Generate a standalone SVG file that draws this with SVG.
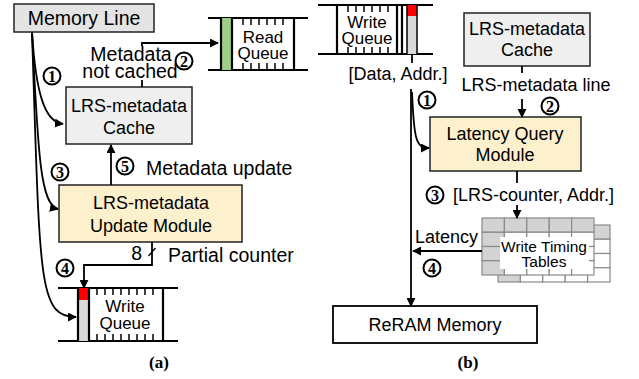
<svg xmlns="http://www.w3.org/2000/svg" width="639" height="379" viewBox="0 0 639 379">
<defs>
<marker id="ah" viewBox="0 0 10 10" refX="9" refY="5" markerWidth="9" markerHeight="9" markerUnits="userSpaceOnUse" orient="auto"><path d="M0,0 L10,5 L0,10 z" fill="#000"/></marker>
<style>
.t{font-family:"Liberation Sans",Arial,sans-serif;font-size:18px;fill:#000}
.L{font-family:"Liberation Sans",Arial,sans-serif;font-size:19.5px;fill:#000}
.q{font-family:"Liberation Sans",Arial,sans-serif;font-size:17px;fill:#000}
.box{stroke:#222;stroke-width:1.5}
.c{fill:#fff;stroke:#000;stroke-width:2}
.n{font-family:"Liberation Serif","Times New Roman",serif;font-weight:bold;font-size:16px;fill:#000;text-anchor:middle}
.cap{font-family:"Liberation Serif","Times New Roman",serif;font-weight:bold;font-size:17px;fill:#000;text-anchor:middle}
.ln{fill:none;stroke:#000;stroke-width:1.8}
.ql{stroke:#000;stroke-width:2.2;fill:none}
.tk{stroke:#000;stroke-width:1.5}
.g{fill:#d3d3d3;stroke:#8a8a8a;stroke-width:1.2}
.w{fill:#fff;stroke:#8a8a8a;stroke-width:1.2}
</style>
</defs>
<rect width="639" height="379" fill="#fff"/>

<!-- Left panel nodes -->
<g id="memory-line">
<rect class="box" x="14" y="4" width="140" height="28" fill="#e4e4e4"/>
<text class="L" x="84" y="25" text-anchor="middle">Memory Line</text>
</g>

<g id="read-queue">
<line class="ql" x1="208" y1="18" x2="308" y2="18"/>
<line class="ql" x1="208" y1="70" x2="308" y2="70"/>
<rect x="222" y="18" width="10" height="52" fill="#9dcf86"/>
<line class="ql" x1="221" y1="18" x2="221" y2="70"/>
<line class="ql" x1="232" y1="18" x2="232" y2="70"/>
<line class="ql" x1="294" y1="18" x2="294" y2="70"/>
<g class="tk">
<line x1="243" y1="18" x2="243" y2="25"/><line x1="251" y1="18" x2="251" y2="25"/><line x1="259" y1="18" x2="259" y2="25"/><line x1="267" y1="18" x2="267" y2="25"/><line x1="275" y1="18" x2="275" y2="25"/><line x1="283" y1="18" x2="283" y2="25"/>
<line x1="243" y1="63" x2="243" y2="70"/><line x1="251" y1="63" x2="251" y2="70"/><line x1="259" y1="63" x2="259" y2="70"/><line x1="267" y1="63" x2="267" y2="70"/><line x1="275" y1="63" x2="275" y2="70"/><line x1="283" y1="63" x2="283" y2="70"/>
</g>
<rect x="236" y="28" width="55" height="34" fill="#fff"/>
<text class="q" x="263" y="43" text-anchor="middle">Read</text>
<text class="q" x="263" y="59" text-anchor="middle">Queue</text>
</g>

<g id="cache-a">
<rect class="box" x="66" y="87" width="126" height="57" fill="#efefef"/>
<text class="t" x="129" y="112" text-anchor="middle">LRS-metadata</text>
<text class="t" x="129" y="134" text-anchor="middle">Cache</text>
</g>

<g id="update-module">
<rect class="box" x="59" y="185" width="183" height="57" fill="#fdf0cc"/>
<text class="t" x="151" y="209" text-anchor="middle">LRS-metadata</text>
<text class="t" x="151" y="232" text-anchor="middle">Update Module</text>
</g>

<g id="write-queue-a">
<line class="ql" x1="58" y1="288" x2="178" y2="288"/>
<line class="ql" x1="58" y1="341" x2="178" y2="341"/>
<rect x="78" y="288" width="11" height="53" fill="#d9d9d9"/>
<rect x="78" y="288" width="11" height="12" fill="#ff0000"/>
<line class="ql" x1="78" y1="288" x2="78" y2="341"/>
<line class="ql" x1="89" y1="288" x2="89" y2="341"/>
<line class="ql" x1="163" y1="288" x2="163" y2="341"/>
<g class="tk">
<line x1="97" y1="288" x2="97" y2="295"/><line x1="105" y1="288" x2="105" y2="295"/><line x1="113" y1="288" x2="113" y2="295"/><line x1="121" y1="288" x2="121" y2="295"/><line x1="129" y1="288" x2="129" y2="295"/><line x1="137" y1="288" x2="137" y2="295"/><line x1="145" y1="288" x2="145" y2="295"/><line x1="153" y1="288" x2="153" y2="295"/>
<line x1="97" y1="334" x2="97" y2="341"/><line x1="105" y1="334" x2="105" y2="341"/><line x1="113" y1="334" x2="113" y2="341"/><line x1="121" y1="334" x2="121" y2="341"/><line x1="129" y1="334" x2="129" y2="341"/><line x1="137" y1="334" x2="137" y2="341"/><line x1="145" y1="334" x2="145" y2="341"/><line x1="153" y1="334" x2="153" y2="341"/>
</g>
<rect x="96" y="297" width="58" height="36" fill="#fff"/>
<text class="q" x="125" y="312" text-anchor="middle">Write</text>
<text class="q" x="125" y="329" text-anchor="middle">Queue</text>
</g>

<!-- Right panel nodes -->
<g id="write-queue-b">
<line class="ql" x1="318" y1="5" x2="433" y2="5"/>
<line class="ql" x1="318" y1="54" x2="433" y2="54"/>
<rect x="407" y="5" width="10" height="49" fill="#d9d9d9"/>
<rect x="407" y="5" width="10" height="11" fill="#ff0000"/>
<line class="ql" x1="337" y1="5" x2="337" y2="54"/>
<line class="ql" x1="397" y1="5" x2="397" y2="54"/>
<line class="ql" x1="402" y1="5" x2="402" y2="54"/>
<line x1="407" y1="5" x2="407" y2="54" stroke="#000" stroke-width="1.5"/>
<line x1="417" y1="5" x2="417" y2="54" stroke="#000" stroke-width="1.5"/>
<g class="tk">
<line x1="348" y1="5" x2="348" y2="12"/><line x1="356" y1="5" x2="356" y2="12"/><line x1="364" y1="5" x2="364" y2="12"/><line x1="372" y1="5" x2="372" y2="12"/><line x1="380" y1="5" x2="380" y2="12"/><line x1="388" y1="5" x2="388" y2="12"/>
<line x1="348" y1="47" x2="348" y2="54"/><line x1="356" y1="47" x2="356" y2="54"/><line x1="364" y1="47" x2="364" y2="54"/><line x1="372" y1="47" x2="372" y2="54"/><line x1="380" y1="47" x2="380" y2="54"/><line x1="388" y1="47" x2="388" y2="54"/>
</g>
<rect x="340" y="13" width="54" height="34" fill="#fff"/>
<text class="q" x="367" y="28" text-anchor="middle">Write</text>
<text class="q" x="367" y="44" text-anchor="middle">Queue</text>
</g>

<g id="cache-b">
<rect class="box" x="464" y="13" width="126" height="53" fill="#efefef"/>
<text class="t" x="527" y="35" text-anchor="middle">LRS-metadata</text>
<text class="t" x="527" y="56" text-anchor="middle">Cache</text>
</g>

<g id="latency-query">
<rect class="box" x="430" y="117" width="151" height="54" fill="#fdf0cc"/>
<text class="t" x="505" y="140" text-anchor="middle">Latency Query</text>
<text class="t" x="505" y="161" text-anchor="middle">Module</text>
</g>

<g id="write-timing-tables">
<g>
<rect class="g" x="498" y="225" width="22.4" height="14.25"/><rect class="g" x="520.4" y="225" width="22.4" height="14.25"/><rect class="g" x="542.8" y="225" width="22.4" height="14.25"/><rect class="g" x="565.2" y="225" width="22.4" height="14.25"/><rect class="g" x="587.6" y="225" width="22.4" height="14.25"/>
<rect class="g" x="498" y="239.25" width="22.4" height="14.25"/><rect class="w" x="520.4" y="239.25" width="22.4" height="14.25"/><rect class="w" x="542.8" y="239.25" width="22.4" height="14.25"/><rect class="w" x="565.2" y="239.25" width="22.4" height="14.25"/><rect class="w" x="587.6" y="239.25" width="22.4" height="14.25"/>
<rect class="g" x="498" y="253.5" width="22.4" height="14.25"/><rect class="w" x="520.4" y="253.5" width="22.4" height="14.25"/><rect class="w" x="542.8" y="253.5" width="22.4" height="14.25"/><rect class="w" x="565.2" y="253.5" width="22.4" height="14.25"/><rect class="w" x="587.6" y="253.5" width="22.4" height="14.25"/>
<rect class="g" x="498" y="267.75" width="22.4" height="14.25"/><rect class="w" x="520.4" y="267.75" width="22.4" height="14.25"/><rect class="w" x="542.8" y="267.75" width="22.4" height="14.25"/><rect class="w" x="565.2" y="267.75" width="22.4" height="14.25"/><rect class="w" x="587.6" y="267.75" width="22.4" height="14.25"/>
</g>
<g>
<rect class="g" x="482" y="218" width="22.4" height="14.25"/><rect class="g" x="504.4" y="218" width="22.4" height="14.25"/><rect class="g" x="526.8" y="218" width="22.4" height="14.25"/><rect class="g" x="549.2" y="218" width="22.4" height="14.25"/><rect class="g" x="571.6" y="218" width="22.4" height="14.25"/>
<rect class="g" x="482" y="232.25" width="22.4" height="14.25"/><rect class="w" x="504.4" y="232.25" width="22.4" height="14.25"/><rect class="w" x="526.8" y="232.25" width="22.4" height="14.25"/><rect class="w" x="549.2" y="232.25" width="22.4" height="14.25"/><rect class="w" x="571.6" y="232.25" width="22.4" height="14.25"/>
<rect class="g" x="482" y="246.5" width="22.4" height="14.25"/><rect class="w" x="504.4" y="246.5" width="22.4" height="14.25"/><rect class="w" x="526.8" y="246.5" width="22.4" height="14.25"/><rect class="w" x="549.2" y="246.5" width="22.4" height="14.25"/><rect class="w" x="571.6" y="246.5" width="22.4" height="14.25"/>
<rect class="g" x="482" y="260.75" width="22.4" height="14.25"/><rect class="w" x="504.4" y="260.75" width="22.4" height="14.25"/><rect class="w" x="526.8" y="260.75" width="22.4" height="14.25"/><rect class="w" x="549.2" y="260.75" width="22.4" height="14.25"/><rect class="w" x="571.6" y="260.75" width="22.4" height="14.25"/>
</g>
<rect x="500" y="237" width="89" height="32" fill="#fff"/>
<text x="544" y="252" text-anchor="middle" font-family="Liberation Sans, Arial, sans-serif" font-size="15.5">Write Timing</text>
<text x="544" y="267" text-anchor="middle" font-family="Liberation Sans, Arial, sans-serif" font-size="15.5">Tables</text>
</g>

<g id="reram-memory">
<rect x="333" y="306" width="204" height="37" fill="#fff" stroke="#000" stroke-width="1.8"/>
<text class="t" x="435" y="331" text-anchor="middle">ReRAM Memory</text>
</g>

<!-- Connectors -->
<g id="connectors">
<path class="ln" d="M32,32 C36,95 45,122 63,124" marker-end="url(#ah)"/>
<path class="ln" d="M32,32 C38,150 40,205 58,209" marker-end="url(#ah)"/>
<path class="ln" d="M32,32 C40,280 38,317 76,317" marker-end="url(#ah)"/>
<path class="ln" d="M142,87 L142,80"/>
<path class="ln" d="M142,46 L142,43 L218,43" marker-end="url(#ah)"/>
<path class="ln" d="M111,185 L111,145" marker-end="url(#ah)"/>
<path class="ln" d="M152,242 L152,265 L84,265 L84,288" marker-end="url(#ah)"/>
<line x1="148.5" y1="256" x2="155.5" y2="248" stroke="#000" stroke-width="1.3"/>

<path class="ln" d="M412,54 L412,63"/>
<path class="ln" d="M411,89 L411,306" marker-end="url(#ah)"/>
<path class="ln" d="M412,92 C414,140 416,148 429,148" marker-end="url(#ah)"/>
<path class="ln" d="M522,66 L522,73"/>
<path class="ln" d="M522,99 L522,117" marker-end="url(#ah)"/>
<path class="ln" d="M517,171 L517,183"/>
<path class="ln" d="M517,205 L517,218" marker-end="url(#ah)"/>
<path class="ln" d="M482,251 L413,251" marker-end="url(#ah)"/>
</g>

<!-- Labels -->
<g id="labels">
<text class="L" x="131" y="61" text-anchor="middle">Metadata</text>
<text class="L" x="130" y="78" text-anchor="middle">not cached</text>
<text class="L" x="146" y="175">Metadata update</text>
<text class="L" x="142" y="260" text-anchor="end">8</text>
<text class="L" x="168" y="262">Partial counter</text>
<text class="t" x="398" y="80" text-anchor="middle">[Data, Addr.]</text>
<text class="t" x="536" y="91" text-anchor="middle">LRS-metadata line</text>
<text class="t" x="453" y="201">[LRS-counter, Addr.]</text>
<text class="t" x="415" y="243">Latency</text>
<text class="cap" x="159" y="368">(a)</text>
<text class="cap" x="468" y="368">(b)</text>
</g>

<g id="step-markers">
<circle class="c" cx="52" cy="76" r="8.5"/><text class="n" x="52" y="81.5">1</text>
<circle class="c" cx="184" cy="61" r="8.5"/><text class="n" x="184" y="66.5">2</text>
<circle class="c" cx="60" cy="172" r="8.5"/><text class="n" x="60" y="177.5">3</text>
<circle class="c" cx="65" cy="268" r="8.5"/><text class="n" x="65" y="273.5">4</text>
<circle class="c" cx="125" cy="166" r="8.5"/><text class="n" x="125" y="171.5">5</text>
<circle class="c" cx="427" cy="100" r="8.5"/><text class="n" x="427" y="105.5">1</text>
<circle class="c" cx="550" cy="106" r="8.5"/><text class="n" x="550" y="111.5">2</text>
<circle class="c" cx="435" cy="195" r="8.5"/><text class="n" x="435" y="200.5">3</text>
<circle class="c" cx="432" cy="268" r="8.5"/><text class="n" x="432" y="273.5">4</text>
</g>
</svg>
